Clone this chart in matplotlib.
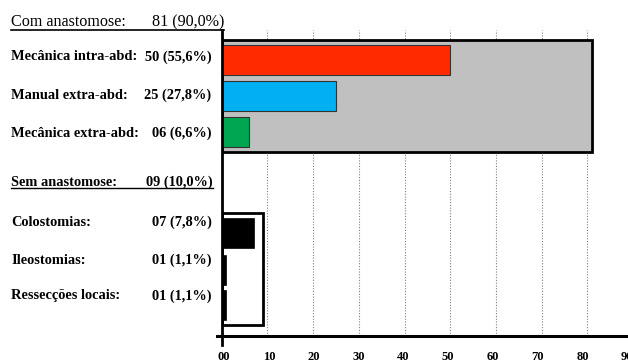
import matplotlib.pyplot as plt
from matplotlib.patches import Rectangle

W, H = 628, 361

# Data: two groups of procedures (counts and percentages)
com_labels = ["Mecânica intra-abd:", "Manual extra-abd:", "Mecânica extra-abd:"]
com_counts = [50, 25, 6]
com_text = ["50 (55,6%)", "25 (27,8%)", "06 (6,6%)"]
com_total = 81
com_total_text = "81 (90,0%)"

sem_labels = ["Colostomias:", "Ileostomias:", "Ressecções locais:"]
sem_counts = [7, 1, 1]
sem_text = ["07 (7,8%)", "01 (1,1%)", "01 (1,1%)"]
sem_total = 9
sem_total_text = "09 (10,0%)"

x_ticks = [0, 10, 20, 30, 40, 50, 60, 70, 80, 90]
x_ticklabels = ["00", "10", "20", "30", "40", "50", "60", "70", "80", "90"]

com_colors = ["#ff2a00", "#00b0f0", "#00a651"]
sem_color = "#000000"

# Layout (row positions on the y axis, label baselines in pixels)
com_rows = [0, 1, 2]
sem_rows = [4.8, 5.83, 6.8]
com_label_y = [60.5, 99, 137]
sem_label_y = [225.5, 263.5, 299.5]
BAR_H = 0.83
PAD = 0.55
FS = 10.4

plt.rcParams["font.family"] = ["Liberation Serif", "DejaVu Serif"]


def px(x, y):
    return x / W, 1 - y / H


fig = plt.figure(figsize=(W / 100, H / 100), dpi=100)
x0_px, top_px, axis_px = 221.7, 30, 336
ax = fig.add_axes([x0_px / W, 1 - axis_px / H, 1 - x0_px / W, (axis_px - top_px) / H])
ax.set_xlim(0, (W - x0_px) / 45.7 * 10)
ax.set_ylim(7.667, -0.833)
ax.axis("off")

# dotted grid
for t in x_ticks[1:]:
    ax.plot([t, t], [7.667, -0.833], color="#808080", lw=0.8, ls=(0, (1, 1.5)), zorder=0)

# group backgrounds
ax.add_patch(Rectangle((0, com_rows[0] - PAD), com_total, com_rows[-1] - com_rows[0] + 2 * PAD,
                       facecolor="#c0c0c0", edgecolor="black", lw=2, zorder=1))
ax.add_patch(Rectangle((0, sem_rows[0] - PAD), sem_total, sem_rows[-1] - sem_rows[0] + 2 * PAD,
                       facecolor="white", edgecolor="black", lw=2, zorder=1))

ax.barh(com_rows, com_counts, height=BAR_H, color=com_colors, edgecolor="#333333",
        lw=0.8, zorder=2)
ax.barh(sem_rows, sem_counts, height=BAR_H, color=sem_color, edgecolor="black",
        lw=0.5, zorder=2)

# axes lines drawn as a cross at the origin
ax.plot([-1, ax.get_xlim()[1]], [7.667, 7.667], color="black", lw=2.2, clip_on=False, zorder=3)
ax.plot([0, 0], [-0.833, 7.667 + 0.25], color="black", lw=2, clip_on=False, zorder=3)

# tick labels sit slightly tighter than the grid spacing
for t, lab in zip(x_ticks, x_ticklabels):
    fig.text(*px(x0_px + 2.3 + t * 4.48, 350.5), lab, ha="center", va="top",
             fontsize=9, fontweight="bold")

# left-hand labels
for lab, val, y in zip(com_labels + sem_labels, com_text + sem_text, com_label_y + sem_label_y):
    fig.text(*px(11, y), lab, ha="left", va="baseline", fontsize=FS, fontweight="bold")
    fig.text(*px(211.5, y), val, ha="right", va="baseline", fontsize=FS, fontweight="bold")

fig.text(*px(11, 26), "Com anastomose:", ha="left", va="baseline", fontsize=11.6)
fig.text(*px(224, 26), com_total_text, ha="right", va="baseline", fontsize=11.6)
fig.add_artist(plt.Line2D([11 / W, 224 / W], [1 - 29.5 / H] * 2, color="black", lw=1.2))

fig.text(*px(11, 186), "Sem anastomose:", ha="left", va="baseline", fontsize=FS,
         fontweight="bold")
fig.text(*px(213, 186), sem_total_text, ha="right", va="baseline", fontsize=FS,
         fontweight="bold")
fig.add_artist(plt.Line2D([11 / W, 213 / W], [1 - 188 / H] * 2, color="black", lw=1))

fig.savefig("out.png", dpi=100)
